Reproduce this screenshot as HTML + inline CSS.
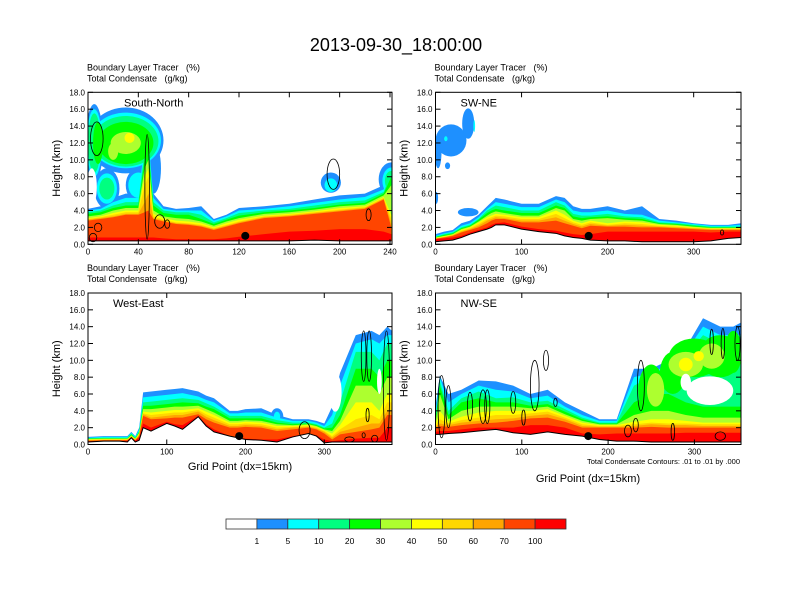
<!DOCTYPE html>
<html><head><meta charset="utf-8"><style>
body{margin:0;background:#fff;}
svg{display:block;font-family:"Liberation Sans",sans-serif;}
text{white-space:pre;}
</style></head><body>
<svg id="chart" width="792" height="612" viewBox="0 0 792 612">
<text x="396" y="51" font-size="18" text-anchor="middle">2013-09-30_18:00:00</text>
</svg>
<script>
const levelColors = ["#1e90ff","#00ffff","#00ff80","#00ff00","#adff2f","#ffff00","#ffd700","#ffa500","#ff4500","#ff0000"];
const colorbarLabels = ["1","5","10","20","30","40","50","60","70","100"];
const yTicks = [0,2,4,6,8,10,12,14,16,18];

// Panel 1: South-North
const p1X = [0,10,20,30,40,45,48,52,60,70,80,90,100,110,120,140,160,180,200,220,235,241];
const p1Terrain = [0.4,0.4,0.4,0.4,0.4,0.4,0.4,0.4,0.4,0.4,0.4,0.4,0.4,0.4,0.4,0.4,0.4,0.5,0.4,0.4,0.4,0.4];
const p1Tops = [
[4.2,4.5,5.5,6,6,13,13,6,4.5,4.2,4.3,4.5,3,3.5,4.3,4.5,4.8,5.3,5.8,6,7,9.5],
[4.0,4.2,5,5.5,5.5,12,12.5,5.5,4.2,4,4,4,2.8,3.3,4,4.2,4.5,4.9,5.3,5.6,6.5,9],
[3.8,4,4.6,5,5,11,12,5,4,3.8,3.8,3.5,2.6,3.1,3.7,4,4.2,4.6,5,5.2,6.2,8.5],
[3.6,3.8,4.3,4.6,4.6,10,11,4.6,3.7,3.5,3.5,3,2.4,2.9,3.4,3.8,4,4.3,4.7,4.9,6,8],
[3.3,3.5,4,4.3,4.3,9,10,4,3.3,3.1,3,2.7,2.2,2.7,3.1,3.6,3.8,4.1,4.5,4.7,5.8,7],
[3.1,3.3,3.7,4,4,8,9,3.6,3.1,2.8,2.7,2.5,2,2.5,2.9,3.4,3.6,3.9,4.3,4.5,5.6,3.5],
[3.0,3.2,3.5,3.8,3.8,7,8,3.3,2.9,2.6,2.5,2.3,1.9,2.3,2.7,3.3,3.5,3.8,4.1,4.4,5.5,3],
[2.9,3.1,3.3,3.6,3.6,5,6,3.1,2.8,2.5,2.4,2.2,1.8,2.2,2.6,3.2,3.4,3.7,4,4.3,5.4,2.5],
[2.8,3,3.2,3.5,3.5,3.8,4,3,2.7,2.4,2.3,2.1,1.7,2.1,2.5,3.1,3.3,3.6,3.9,4.2,5.3,2],
[0.8,0.8,0.8,0.8,0.8,0.8,0.8,0.8,0.7,0.6,0.6,0.6,0.6,0.7,0.9,1.2,1.5,1.6,1.8,1.8,1.5,1.2]];
const p1BlobX = [30,5,15,40,52,193,241, 30,5,15,40,193,241, 30,5,15,241, 30,8, 30,20, 33];
const p1BlobY = [12.3,12,6.6,7,9,7.3,7.7, 12.3,12,6.6,7,7,7.5, 12.2,12,6.6,7.5, 12,12, 12,11, 12.6];
const p1BlobW = [30,7,10,10,6,8,10, 28,6,8,8,5,7, 26,5,6,5, 22,4, 12,4, 4];
const p1BlobH = [3.9,4.6,2.4,2,3,1.2,2, 3.3,4,1.8,1.5,0.8,1.6, 3,3.5,1.3,1.2, 2.5,2.5, 1.3,1, 0.6];
const p1BlobLvl = [0,0,0,0,0,0,0, 1,1,1,1,1,1, 2,2,2,2, 3,3, 4,4, 5];
const p1HoleX = [3]; const p1HoleY = [6.8]; const p1HoleW = [4]; const p1HoleH = [2.2];
const p1CntX = [7,195,223,57,63,8,4,47];
const p1CntY = [12.5,8.3,3.5,2.7,2.4,2,0.8,6.8];
const p1CntW = [5,5,2,4,2,3,3,1.8];
const p1CntH = [2,1.8,0.7,0.8,0.5,0.5,0.5,6.2];
const p1Dot = [125,1.0];

// Panel 2: SW-NE
const p2X = [0,10,20,30,40,50,60,65,70,80,100,120,140,150,160,170,180,200,220,240,260,280,300,320,340,355];
const p2Terrain = [0.3,0.4,0.5,0.8,1.2,1.5,1.8,2,2.3,2.3,1.8,1.5,1.3,1,0.8,0.7,0.5,0.4,0.4,0.3,0.3,0.3,0.3,0.4,0.7,0.8];
const p2Tops = [
[1.2,1.5,1.7,2.5,2.8,3.5,4.5,5,5.5,5.3,4.8,4.8,5.7,5.5,4.5,4.2,4.2,4.5,4,4.5,3,2.8,2.5,2.3,2.3,2.5],
[1.0,1.3,1.5,2.2,2.5,3.2,4.2,4.6,5,4.8,4.4,4.4,5.3,5,4,3.8,3.8,4,3.6,3.5,2.8,2.6,2.4,2.2,2.2,2.3],
[0.9,1.2,1.4,2,2.3,3,4,4.3,4.6,4.4,4,4,5,4.6,3.6,3.4,3.4,3.6,3.3,3.2,2.6,2.5,2.3,2.1,2.1,2.1],
[0.85,1.1,1.3,1.9,2.2,2.9,3.7,4,4.2,4,3.7,3.7,4.6,4.3,3.3,3.1,3.2,3.3,3.1,3,2.5,2.4,2.2,2,2,2],
[0.8,1,1.2,1.8,2.1,2.7,3.4,3.7,3.9,3.7,3.4,3.4,4.3,4,3,2.8,3,3.1,2.9,2.8,2.4,2.3,2.1,1.95,1.95,1.95],
[0.75,0.95,1.15,1.7,2,2.6,3.2,3.4,3.6,3.5,3.2,3.2,4,3.5,2.8,2.5,2.8,2.5,2.7,2.6,2.3,2.2,2,1.9,1.9,1.9],
[0.7,0.9,1.1,1.6,1.9,2.4,3,3.2,3.4,3.3,3,3,3.6,3.1,2.6,2.3,2.6,2.3,2.5,2.4,2.2,2.1,1.95,1.85,1.85,1.85],
[0.68,0.85,1.05,1.5,1.8,2.2,2.8,3,3.2,3.1,2.8,2.8,3.2,2.8,2.4,2.1,2.4,2.2,2.3,2.2,2.1,2,1.9,1.8,1.8,1.8],
[0.65,0.8,1,1.4,1.7,2,2.5,2.8,3,3,2.6,2.6,2.8,2.5,2.2,1.9,2.2,2.1,2.1,2,2,1.9,1.8,1.7,1.7,1.7],
[0.6,0.7,0.8,1,1.4,1.7,2,2.3,2.5,2.6,2.1,1.8,1.6,1.4,1.2,1.1,1.2,1.5,1.5,1.5,1.5,1.5,1.5,1.4,1.5,1.5]];
const p2BlobX = [18,38,3,14,1,38, 12,45];
const p2BlobY = [12.3,14.3,11,9.3,5.5,3.8, 12.5,14];
const p2BlobW = [18,7,4,3,2,12, 2,1];
const p2BlobH = [1.9,1.8,2,0.4,0.7,0.5, 0.3,0.7];
const p2BlobLvl = [0,0,0,0,0,0, 1,1];
const p2HoleX = []; const p2HoleY = []; const p2HoleW = []; const p2HoleH = [];
const p2CntX = [333]; const p2CntY = [1.4]; const p2CntW = [2]; const p2CntH = [0.3];
const p2Dot = [178,1.0];

// Panel 3: West-East
const p3X = [0,20,40,50,55,60,65,70,80,100,110,120,140,150,160,180,190,200,220,240,260,280,290,300,310,320,340,360,370,380,386];
const p3Terrain = [0.3,0.4,0.4,0.3,0.8,0.3,0.5,2,1.6,2.5,2.2,1.8,3.3,2.2,1.5,1.0,0.8,0.6,0.5,0.3,0.9,1.3,1.0,0.2,0.3,0.3,0.3,0.3,0.3,0.3,0.3];
const p3Tops = [
[0.9,1,1,1,1.5,1,2,6.2,6.3,6.5,6.6,6.7,6.3,5.8,5.5,4,4,4.2,4.3,3.5,3,3,2.8,2.5,4.5,8.5,13,13.5,13,14,13.5],
[0.8,0.9,0.9,0.9,1.4,0.9,1.8,5.6,5.7,5.9,6,6.1,5.7,5.3,5,3.7,3.7,3.8,3.8,3.2,2.8,2.8,2.6,2.2,3.5,7,12,12.5,12,13,13],
[0.75,0.8,0.8,0.8,1.3,0.8,1.6,5,5.1,5.3,5.4,5.5,5.3,4.9,4.5,3.4,3.4,3.4,3.4,2.9,2.6,2.6,2.4,2,2.5,5,11,11,10,12,12],
[0.7,0.75,0.75,0.75,1.2,0.75,1.5,4.6,4.6,4.8,4.9,5,4.9,4.5,4.2,3.1,3.1,3.1,3.1,2.6,2.4,2.5,2.3,1.9,2,3.5,9,9,8,10,10],
[0.65,0.7,0.7,0.7,1.1,0.7,1.4,4.2,4.2,4.4,4.5,4.5,4.6,4.2,3.8,2.8,2.8,2.9,2.8,2.4,2.3,2.4,2.2,1.8,1.6,2.8,7,7,6,8,8],
[0.6,0.65,0.65,0.65,1,0.65,1.3,3.9,3.8,4,4.1,4.1,4.3,3.9,3.5,2.6,2.6,2.7,2.6,2.2,2.2,2.3,2.1,1.7,1.3,2.3,5,5,4,6,6],
[0.55,0.6,0.6,0.6,1,0.6,1.2,3.7,3.5,3.7,3.8,3.8,4.1,3.6,3.2,2.4,2.4,2.5,2.4,2,2.1,2.2,2,1.6,1,1.8,3,3.5,3,5,5],
[0.5,0.55,0.55,0.55,0.9,0.55,1.1,3.6,3.2,3.4,3.5,3.5,3.9,3.3,2.9,2.2,2.2,2.3,2.2,1.8,2,2.1,1.9,1.5,0.8,1.5,2,2.5,2.5,4,4],
[0.45,0.5,0.5,0.5,0.9,0.5,1,3.4,3,3.1,3.2,3.2,3.6,3,2.6,2,2,2.1,2,1.6,1.8,2,1.8,1.3,0.6,1.2,1.5,1.8,2,3.5,3.5],
[0.4,0.45,0.45,0.45,0.8,0.45,0.8,2.5,2,2.7,2.4,2.3,3.4,2.4,1.8,1.0,0.8,0.7,0.6,0.6,1,1.3,1.1,0.6,0.4,0.5,0.7,0.8,0.8,2,2]];
const p3BlobX = [240,240,200];
const p3BlobY = [3.3,3.3,2.3];
const p3BlobW = [8,4,4];
const p3BlobH = [1,0.6,0.6];
const p3BlobLvl = [0,1,3];
const p3HoleX = [314,370]; const p3HoleY = [6.2,7.5]; const p3HoleW = [8,3]; const p3HoleH = [2.3,1.5];
const p3CntX = [350,357,379,275,355,332,350,364];
const p3CntY = [10.5,10.5,7,1.7,3.5,0.6,1.1,0.7];
const p3CntW = [3,3,4,7,2,6,2,4];
const p3CntH = [3,3,6.5,1,0.8,0.3,0.3,0.4];
const p3Dot = [192,1.0];

// Panel 4: NW-SE
const p4X = [0,5,15,30,50,70,90,110,130,150,170,190,210,230,250,270,290,310,330,345,354];
const p4Terrain = [1.2,1.2,1.3,1.4,1.6,1.8,1.4,1.2,1.5,1.2,1.0,0.6,0.4,0.4,0.3,0.3,0.3,0.3,0.3,0.3,0.3];
const p4Tops = [
[4.5,8.2,6,6.5,7.6,7.5,7,6,6.5,5,4,3,3,9,9,10,11.5,15,14,14,14.5],
[3.5,8,5,6,7,6.5,6.3,5.5,5.8,4.5,3.5,2.8,2.8,8,8.5,9.5,11,14,13,13,13],
[3,7.5,4,5.5,6.3,5.5,5.6,5,5.2,4.2,3.2,2.6,2.6,7,8,9,10.5,13,12,12,12],
[2.8,7,3.5,5,5.5,5,5,4.6,4.8,3.9,3,2.5,2.5,5,6,6,5,4.5,4.5,4.5,4.5],
[2.5,6,3,4,4.5,4.5,4.5,4.3,4.5,3.6,2.8,2.4,2.4,3.5,4,4,3.5,3.2,3.2,3.2,3.2],
[2.3,4,2.7,3.3,3.8,4,4,4,4.2,3.4,2.6,2.3,2.3,2.7,3,3,2.8,2.6,2.6,2.6,2.6],
[2.2,3,2.5,2.9,3.2,3.5,3.5,3.7,3.9,3.2,2.4,2.2,2.2,2.4,2.6,2.5,2.5,2.4,2.4,2.4,2.4],
[2.1,2.5,2.3,2.6,2.8,3,3.1,3.4,3.6,3,2.2,2.1,2.1,2.2,2.4,2.3,2.3,2.2,2.2,2.2,2.2],
[2,2.2,2.1,2.3,2.5,2.6,2.8,3.1,3.2,2.7,2,2,2,2,2.1,2,2,2,2,2,2],
[1.5,1.6,1.6,1.8,2,2,2,2.3,2.3,2,1.3,1.2,1.3,1.3,1.3,1.3,1.4,1.4,1.4,1.4,1.4]];
const p4BlobX = [250,275,300,330,345, 255,290,320, 290,305, 330];
const p4BlobY = [6.5,8.5,10.3,10.5,11, 6.5,9.5,10.5, 9.5,10.5, 4.5];
const p4BlobW = [15,15,30,25,10, 10,20,15, 8,6, 25];
const p4BlobH = [3,2.5,2.3,2.5,2.5, 2,1.5,1.5, 0.8,0.6, 1.2];
const p4BlobLvl = [3,3,3,3,3, 4,4,4, 5,5, 1];
const p4HoleX = [318,290]; const p4HoleY = [6.4,7.4]; const p4HoleW = [27,6]; const p4HoleH = [1.7,1]; 
const p4CntX = [7,15,40,55,60,90,102,115,128,139,238,223,232,320,333,350,275,330];
const p4CntY = [4.5,4.5,4.5,4.5,4.5,5,3.2,7,10,5,7,1.6,2.3,12.2,12,12,1.5,1];
const p4CntW = [4,3,3,4,3,3,2,5,3,2,4,4,3,2,2,3,2,6];
const p4CntH = [3.7,2.5,1.7,2,2,1.3,0.9,3,1.2,0.5,3,0.7,0.8,1.5,1.8,2,1,0.5];
const p4Dot = [177,1.0];

const NS = "http://www.w3.org/2000/svg";
const svg = document.getElementById("chart");
function mk(tag, attrs, parent){const e=document.createElementNS(NS,tag);for(const k in attrs)e.setAttribute(k,attrs[k]);(parent||svg).appendChild(e);return e;}

const panels = [
 {name:"south-north",label:"South-North",L:88,R:392,T:92.3,B:244.3,xmax:241.6,xt:[0,40,80,120,160,200,240],X:p1X,ter:p1Terrain,tops:p1Tops,bx:p1BlobX,by:p1BlobY,bw:p1BlobW,bh:p1BlobH,bl:p1BlobLvl,hx:p1HoleX,hy:p1HoleY,hw:p1HoleW,hh:p1HoleH,cx:p1CntX,cy:p1CntY,cw:p1CntW,ch:p1CntH,dot:p1Dot},
 {name:"sw-ne",label:"SW-NE",L:435.5,R:741,T:92.3,B:244.3,xmax:355,xt:[0,100,200,300],X:p2X,ter:p2Terrain,tops:p2Tops,bx:p2BlobX,by:p2BlobY,bw:p2BlobW,bh:p2BlobH,bl:p2BlobLvl,hx:p2HoleX,hy:p2HoleY,hw:p2HoleW,hh:p2HoleH,cx:p2CntX,cy:p2CntY,cw:p2CntW,ch:p2CntH,dot:p2Dot},
 {name:"west-east",label:"West-East",L:88,R:392,T:293,B:444.5,xmax:386,xt:[0,100,200,300],X:p3X,ter:p3Terrain,tops:p3Tops,bx:p3BlobX,by:p3BlobY,bw:p3BlobW,bh:p3BlobH,bl:p3BlobLvl,hx:p3HoleX,hy:p3HoleY,hw:p3HoleW,hh:p3HoleH,cx:p3CntX,cy:p3CntY,cw:p3CntW,ch:p3CntH,dot:p3Dot},
 {name:"nw-se",label:"NW-SE",L:435.5,R:741,T:293,B:444.5,xmax:354,xt:[0,100,200,300],X:p4X,ter:p4Terrain,tops:p4Tops,bx:p4BlobX,by:p4BlobY,bw:p4BlobW,bh:p4BlobH,bl:p4BlobLvl,hx:p4HoleX,hy:p4HoleY,hw:p4HoleW,hh:p4HoleH,cx:p4CntX,cy:p4CntY,cw:p4CntW,ch:p4CntH,dot:p4Dot}
];

panels.forEach(function(p){
  const g = mk("g",{});
  
  
  const xs = function(v){return p.L + v/p.xmax*(p.R-p.L);};
  const ys = function(v){return p.B - v/18*(p.B-p.T);};
  const clipId = "clip-"+p.name;
  const cp = mk("clipPath",{id:clipId},g);
  mk("rect",{x:p.L,y:p.T,width:p.R-p.L,height:p.B-p.T},cp);
  const plot = mk("g",{"clip-path":"url(#"+clipId+")"},g);
  function drawBlobs(lvl, color){
    for(let i=0;i<p.bx.length;i++){
      if(p.bl[i]!==lvl) continue;
      const e = mk("ellipse",{cx:xs(p.bx[i]),cy:ys(p.by[i]),rx:Math.abs(xs(p.bw[i])-xs(0)),ry:Math.abs(ys(0)-ys(p.bh[i])),fill:color},plot);
      
      
    }
  }
  for(let k=0;k<10;k++){
    const top = p.tops[k];
    let d = "M"+xs(p.X[0])+","+ys(p.ter[0]);
    for(let i=0;i<p.X.length;i++) d += " L"+xs(p.X[i])+","+ys(top[i]);
    for(let i=p.X.length-1;i>=0;i--) d += " L"+xs(p.X[i])+","+ys(p.ter[i]);
    const path = mk("path",{d:d+"Z",fill:levelColors[k]},plot);
    
    
    drawBlobs(k, levelColors[k]);
  }
  for(let i=0;i<p.hx.length;i++){
    const h = mk("ellipse",{cx:xs(p.hx[i]),cy:ys(p.hy[i]),rx:xs(p.hw[i])-xs(0),ry:ys(0)-ys(p.hh[i]),fill:"#fff"},plot);
    
    
  }
  let td = "";
  for(let i=0;i<p.X.length;i++) td += (i?" L":"M")+xs(p.X[i])+","+ys(p.ter[i]);
  const tl = mk("path",{d:td,fill:"none",stroke:"#000","stroke-width":1},plot);
  
  
  for(let i=0;i<p.cx.length;i++){
    const c = mk("ellipse",{cx:xs(p.cx[i]),cy:ys(p.cy[i]),rx:xs(p.cw[i])-xs(0),ry:ys(0)-ys(p.ch[i]),fill:"none",stroke:"#000","stroke-width":0.8},plot);
    
    
  }
  const dot = mk("circle",{cx:xs(p.dot[0]),cy:ys(p.dot[1]),r:4,fill:"#000"},plot);
  
  
  const fr = mk("rect",{x:p.L,y:p.T,width:p.R-p.L,height:p.B-p.T,fill:"none",stroke:"#000","stroke-width":1},g);
  
  
  yTicks.forEach(function(t){
    const y = ys(t);
    mk("line",{x1:p.L,x2:p.L+5,y1:y,y2:y,stroke:"#000"},g);
    mk("line",{x1:p.R,x2:p.R-5,y1:y,y2:y,stroke:"#000"},g);
    const tx = mk("text",{x:p.L-3,y:y+3,"font-size":8,"text-anchor":"end"},g);
    tx.textContent = t.toFixed(1);
    
    
  });
  p.xt.forEach(function(t){
    const x = xs(t);
    mk("line",{x1:x,x2:x,y1:p.B,y2:p.B-5,stroke:"#000"},g);
    mk("line",{x1:x,x2:x,y1:p.T,y2:p.T+5,stroke:"#000"},g);
    const tx = mk("text",{x:x,y:p.B+10,"font-size":8,"text-anchor":"middle"},g);
    tx.textContent = String(t);
    
    
  });
  const t1 = mk("text",{x:p.L-1,y:p.T-22,"font-size":9},g);
  t1.textContent = "Boundary Layer Tracer   (%)";
  
  
  const t2 = mk("text",{x:p.L-1,y:p.T-11,"font-size":9},g);
  t2.textContent = "Total Condensate   (g/kg)";
  
  
  const pl = mk("text",{x:p.L+(p.name==="south-north"?36:25),y:p.T+14,"font-size":11},g);
  pl.textContent = p.label;
  
  
  const yl = mk("text",{x:0,y:0,"font-size":11,"text-anchor":"middle",transform:"translate("+(p.L-28)+","+((p.T+p.B)/2)+") rotate(-90)"},g);
  yl.textContent = "Height (km)";
  
  
});

const gx1 = mk("text",{x:240,y:470,"font-size":11,"text-anchor":"middle"});
gx1.textContent = "Grid Point (dx=15km)";


const gx2 = mk("text",{x:588,y:482,"font-size":11,"text-anchor":"middle"});
gx2.textContent = "Grid Point (dx=15km)";


const cn = mk("text",{x:740,y:464,"font-size":7.5,"text-anchor":"end"});
cn.textContent = "Total Condensate Contours: .01 to .01 by .000";



const cbColors = ["#ffffff"].concat(levelColors);
const cbL = 226, cbR = 566, cbT = 519, cbH = 10;
const cbW = (cbR-cbL)/cbColors.length;
cbColors.forEach(function(c,i){
  const r = mk("rect",{x:cbL+i*cbW,y:cbT,width:cbW,height:cbH,fill:c,stroke:"#333","stroke-width":0.8});
  
  
});
colorbarLabels.forEach(function(l,i){
  const t = mk("text",{x:cbL+(i+1)*cbW,y:544,"font-size":8.5,"text-anchor":"middle"});
  t.textContent = l;
  
  
});
</script>
</body></html>
